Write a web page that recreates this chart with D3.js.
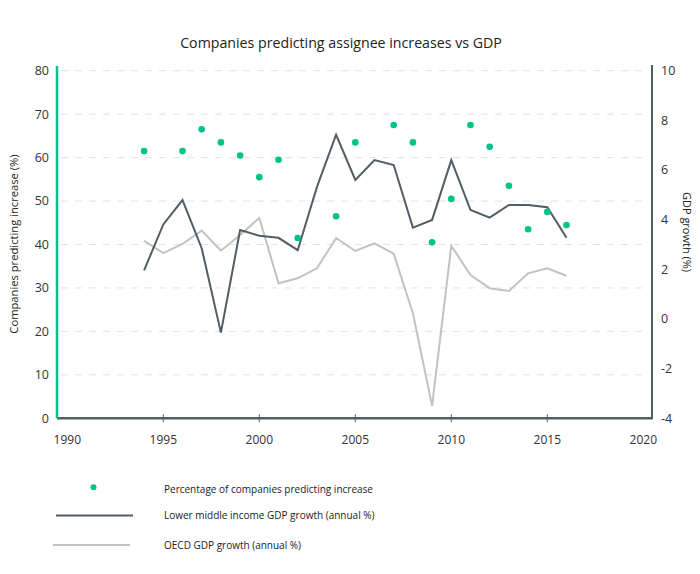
<!DOCTYPE html>
<html><head><meta charset="utf-8">
<script src="https://cdn.jsdelivr.net/npm/d3@7"></script>
<style>body{margin:0;background:#fff;} text{font-family:"Open Sans",sans-serif;}</style>
</head><body><svg id="c" width="700" height="574"></svg>
<script>
const years = d3.range(1994, 2017);
const pctYears = [1994,1996,1997,1998,1999,2000,2001,2002,2004,2005,2007,2008,2009,2010,2011,2012,2013,2014,2015,2016];
const pctValues = [61.5,61.5,66.5,63.5,60.5,55.5,59.5,41.5,46.5,63.5,67.5,63.5,40.5,50.5,67.5,62.5,53.5,43.5,47.5,44.5];
const lmiGdp = [1.96,3.81,4.79,2.85,-0.55,3.58,3.35,3.27,2.77,5.31,7.42,5.6,6.4,6.2,3.68,3.99,6.4,4.39,4.08,4.59,4.59,4.5,3.27];
const oecdGdp = [3.15,2.65,3.02,3.56,2.75,3.38,4.07,1.44,1.64,2.04,3.26,2.74,3.05,2.63,0.23,-3.5,2.95,1.77,1.24,1.13,1.84,2.04,1.74];
const xTicks = [1990,1995,2000,2005,2010,2015,2020];
const leftTicks = [0,10,20,30,40,50,60,70,80];
const rightTicks = [-4,-2,0,2,4,6,8,10];
const seriesNames = ["Percentage of companies predicting increase","Lower middle income GDP growth (annual %)","OECD GDP growth (annual %)"];

const GREEN="#00c389", DARK="#535d66", LIGHT="#c2c2c2", GRID="#dde4ea", TXT="#333";
const svg = d3.select("#c");
const L=57, R=652, T=70.7, B=418.3;
const x = d3.scaleLinear().domain([1990,2020]).range([67.3,643.3]);
const yL = d3.scaleLinear().domain([0,80]).range([B,T]);
const yR = d3.scaleLinear().domain([-4,10]).range([B,T]);

svg.append("text").attr("x",341).attr("y",48).attr("text-anchor","middle")
  .style("font-size","14.2px").attr("fill","#222").text("Companies predicting assignee increases vs GDP");

// gridlines
svg.append("g").selectAll("line").data(leftTicks.filter(d=>d>0)).join("line")
  .attr("x1",L+4).attr("x2",R-4).attr("y1",d=>yL(d)).attr("y2",d=>yL(d))
  .attr("stroke",GRID).attr("stroke-width",1).attr("stroke-dasharray","7,7");

// left axis labels
svg.append("g").selectAll("text").data(leftTicks).join("text")
  .attr("x",49).attr("y",d=>yL(d)).attr("dy","0.35em").attr("text-anchor","end")
  .style("font-size","12.5px").attr("fill",TXT).text(d=>d);
// right axis labels
svg.append("g").selectAll("text").data(rightTicks).join("text")
  .attr("x",661).attr("y",d=>yR(d)).attr("dy","0.35em").attr("text-anchor","start")
  .style("font-size","12.5px").attr("fill",TXT).text(d=>d);
// x labels
svg.append("g").selectAll("text").data(xTicks).join("text")
  .attr("x",d=>x(d)).attr("y",444).attr("text-anchor","middle")
  .style("font-size","12px").attr("fill",TXT).text(d=>d);
// x ticks
svg.append("g").selectAll("line").data(xTicks.slice(1,-1)).join("line")
  .attr("x1",d=>x(d)).attr("x2",d=>x(d)).attr("y1",B-4).attr("y2",B+4)
  .attr("stroke",DARK).attr("stroke-width",1);

// axis titles
svg.append("text").attr("transform","translate(18,244) rotate(-90)").attr("text-anchor","middle")
  .style("font-size","11.2px").attr("fill","#222").text("Companies predicting increase (%)");
svg.append("text").attr("transform","translate(683,232) rotate(90)").attr("text-anchor","middle")
  .style("font-size","11px").attr("fill","#222").text("GDP growth (%)");

// axes lines
svg.append("line").attr("x1",L).attr("x2",R).attr("y1",B).attr("y2",B).attr("stroke",DARK).attr("stroke-width",2.5);
svg.append("line").attr("x1",R).attr("x2",R).attr("y1",65).attr("y2",B+1).attr("stroke",DARK).attr("stroke-width",2);
svg.append("line").attr("x1",L).attr("x2",L).attr("y1",66).attr("y2",B).attr("stroke",GREEN).attr("stroke-width",2.5);

// lines
const line = d3.line().x((d,i)=>x(years[i])).y(d=>yR(d));
svg.append("path").datum(oecdGdp).attr("d",line).attr("fill","none").attr("stroke",LIGHT).attr("stroke-width",2);
svg.append("path").datum(lmiGdp).attr("d",line).attr("fill","none").attr("stroke",DARK).attr("stroke-width",2);

// dots
svg.append("g").selectAll("circle").data(pctValues).join("circle")
  .attr("cx",(d,i)=>x(pctYears[i])).attr("cy",d=>yL(d)).attr("r",3.3).attr("fill",GREEN);

// legend
const lg = svg.append("g");
lg.append("circle").attr("cx",93.5).attr("cy",487.3).attr("r",3).attr("fill",GREEN);
lg.append("line").attr("x1",56).attr("x2",133).attr("y1",515.5).attr("y2",515.5).attr("stroke",DARK).attr("stroke-width",2);
lg.append("line").attr("x1",53).attr("x2",130).attr("y1",545).attr("y2",545).attr("stroke",LIGHT).attr("stroke-width",2);
lg.selectAll("text").data(seriesNames).join("text")
  .attr("x",164).attr("y",(d,i)=>[489.5,515.8,545.2][i]).attr("dy","0.35em")
  .style("font-size","10px").attr("fill","#222").text(d=>d);
</script></body></html>
